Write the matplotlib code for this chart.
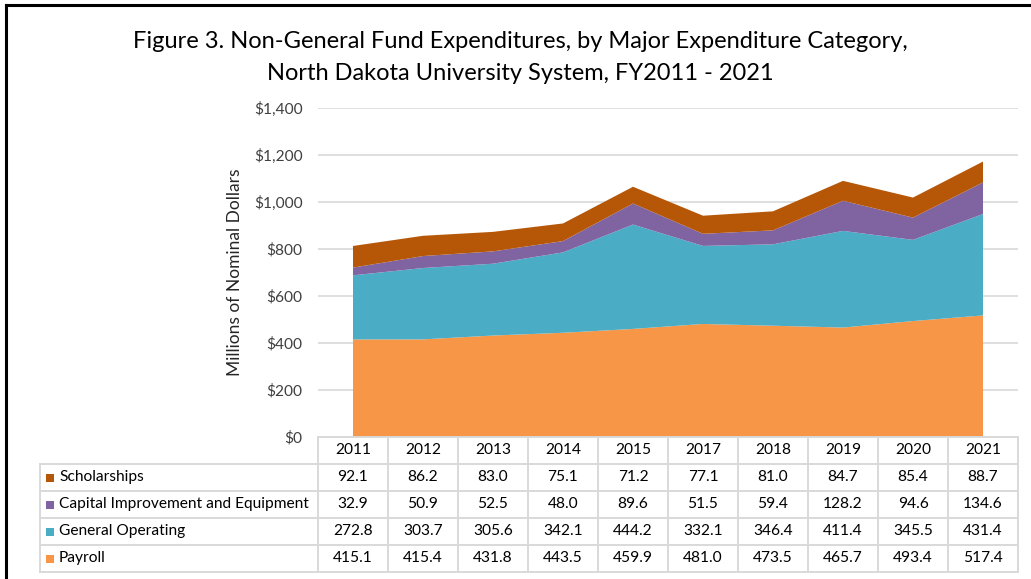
import matplotlib
matplotlib.use("Agg")
import matplotlib.pyplot as plt
from matplotlib.patches import Rectangle
from matplotlib.lines import Line2D
import matplotlib.transforms as mtransforms

years = ["2011", "2012", "2013", "2014", "2015", "2017", "2018", "2019", "2020", "2021"]
payroll = [415.1, 415.4, 431.8, 443.5, 459.9, 481.0, 473.5, 465.7, 493.4, 517.4]
general_operating = [272.8, 303.7, 305.6, 342.1, 444.2, 332.1, 346.4, 411.4, 345.5, 431.4]
capital = [32.9, 50.9, 52.5, 48.0, 89.6, 51.5, 59.4, 128.2, 94.6, 134.6]
scholarships = [92.1, 86.2, 83.0, 75.1, 71.2, 77.1, 81.0, 84.7, 85.4, 88.7]

series_names = ["Payroll", "General Operating", "Capital Improvement and Equipment", "Scholarships"]
colors = ["#F79646", "#4BACC6", "#8064A2", "#B65708"]
yticks = [0, 200, 400, 600, 800, 1000, 1200, 1400]

plt.rcParams['font.family'] = ['Lato', 'DejaVu Sans']

W, H = 1031, 579
fig = plt.figure(figsize=(W / 100, H / 100), dpi=100)

def fx(px):
    return px / W

def fy(py):
    return 1 - py / H

# border lines (top and left)
fig.add_artist(Line2D([fx(6), 1.0], [fy(5), fy(5)], color="black", lw=2.2, transform=fig.transFigure))
fig.add_artist(Line2D([fx(6), fx(6)], [fy(5), 0], color="black", lw=2.2, transform=fig.transFigure))

ax_left, ax_right, ax_top, ax_bot = 318, 1018, 108, 437
ax = fig.add_axes([fx(ax_left), fy(ax_bot), fx(ax_right - ax_left), (ax_bot - ax_top) / H])

x = list(range(len(years)))
ax.stackplot(x, payroll, general_operating, capital, scholarships, colors=colors, linewidth=0)
ax.set_xlim(-0.5, len(years) - 0.5)
ax.set_ylim(0, 1400)
ax.set_yticks(yticks)
ax.set_yticklabels([f"${v:,.0f}" for v in yticks], fontsize=11.2, color="#404040")
ax.tick_params(axis="y", length=0, pad=11)
ax.set_xticks([])
ax.grid(axis="y", color="#D9D9D9", lw=1.2)
ax.set_axisbelow(True)
for s in ax.spines.values():
    s.set_visible(False)
ax.set_ylabel("Millions of Nominal Dollars", fontsize=12.5, color="#262626", labelpad=8)

fig.text(0.505, fy(42), "Figure 3. Non-General Fund Expenditures, by Major Expenditure Category,",
         ha="center", va="center", fontsize=17, color="#000000")
fig.text(0.505, fy(73), "North Dakota University System, FY2011 - 2021",
         ha="center", va="center", fontsize=17, color="#000000")

# data table
trans = mtransforms.blended_transform_factory(ax.transData, fig.transFigure)
row_h = 27
header_top = 437
gc = "#D9D9D9"
glw = 1.4
label_left = 40
fs = 11.2

rows = [("Scholarships", scholarships, colors[3]),
        ("Capital Improvement and Equipment", capital, colors[2]),
        ("General Operating", general_operating, colors[1]),
        ("Payroll", payroll, colors[0])]

n = len(years)
for i, yr in enumerate(years):
    ax.text(i, fy(header_top + row_h / 2 - 0.5), yr, transform=trans, ha="center", va="center",
            fontsize=fs, color="#000000", clip_on=False)
for i in range(n + 1):
    xx = i - 0.5
    ax.add_artist(Line2D([xx, xx], [fy(header_top), fy(header_top + row_h * 5)], transform=trans,
                         color=gc, lw=glw, clip_on=False))
ax.add_artist(Line2D([-0.5, n - 0.5], [fy(header_top), fy(header_top)], transform=trans,
                     color=gc, lw=glw, clip_on=False))
for r in range(1, 6):
    yy = fy(header_top + row_h * r)
    fig.add_artist(Line2D([fx(label_left), fx(ax_right)], [yy, yy], transform=fig.transFigure,
                          color=gc, lw=glw))
fig.add_artist(Line2D([fx(label_left), fx(label_left)], [fy(header_top + row_h), fy(header_top + row_h * 5)],
                      transform=fig.transFigure, color=gc, lw=glw))

for r, (name, vals, col) in enumerate(rows):
    yc = header_top + row_h * (r + 1) + row_h / 2
    fig.add_artist(Rectangle((fx(46), fy(yc + 4)), fx(8), 8 / H, transform=fig.transFigure,
                             facecolor=col, edgecolor="none"))
    fig.text(fx(59), fy(yc - 0.5), name, ha="left", va="center", fontsize=fs, color="#000000")
    for i, v in enumerate(vals):
        ax.text(i, fy(yc - 0.5), f"{v:.1f}", transform=trans, ha="center", va="center",
                fontsize=fs, color="#000000", clip_on=False)

fig.savefig("out.png", dpi=100, facecolor="white")
